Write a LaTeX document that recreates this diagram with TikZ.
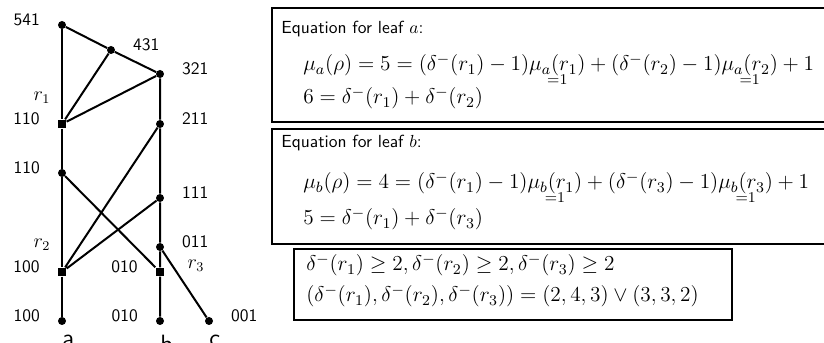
\documentclass[tikz,border=0pt]{standalone}
\usepackage{fix-cm}
\usepackage{amsmath,amssymb}
\usetikzlibrary{positioning}

\newcommand{\isone}[1]{\underset{=1}{\smash[b]{#1}}}

\begin{document}
\begin{tikzpicture}[
    x=0.6pt, y=-0.6pt,
    vert/.style={
        circle,
        fill=black,
        inner sep=0pt,
        minimum size=4.8pt
    },
    rootv/.style={
        rectangle,
        fill=black,
        inner sep=0pt,
        minimum size=5.2pt
    },
    lbl/.style={
        font=\fontsize{10.5}{12}\sffamily,
        inner sep=0pt,
        yshift=3.3pt
    },
    rlbl/.style={
        font=\fontsize{12}{14}\selectfont,
        inner sep=0pt
    },
    leafname/.style={
        font=\fontsize{15}{17}\sffamily,
        inner sep=0pt
    },
    link/.style={line width=1.2pt},
    eqbox/.style={
        draw=black,
        line width=1.3pt,
        anchor=north west,
        inner sep=0pt
    },
    eqtext/.style={anchor=base west, inner sep=0pt, font=\fontsize{10.5}{12}\sffamily},
    eqmath/.style={anchor=base west, inner sep=0pt, font=\fontsize{12.8}{15}\selectfont},
    label distance=10.5pt
]
    \useasboundingbox (0,0) rectangle (824,343);

    % -- Graph --
    \node[vert, label={[lbl]left:541}] (v541) at (62,25) {};
    \node[vert, label={[lbl]right:431}] (v431) at (111,50) {};
    \node[vert, label={[lbl]right:321}] (v321) at (160,74) {};
    \node[rootv, label={[lbl]left:110}] (r1) at (62,124) {};
    \node[vert, label={[lbl]right:211}] (v211) at (160,124) {};
    \node[vert, label={[lbl]left:110}] (v110) at (62,173) {};
    \node[vert, label={[lbl]right:111}] (v111) at (160,198) {};
    \node[vert, label={[lbl]right:011}] (v011) at (160,247) {};
    \node[rootv, label={[lbl]left:100}] (r2) at (62,272) {};
    \node[rootv, label={[lbl]left:010}] (r3) at (160,272) {};

    % leaves
    \node[vert, label={[lbl]left:100}] (la) at (62,321) {};
    \node[vert, label={[lbl]left:010}] (lb) at (160,321) {};
    \node[vert, label={[lbl]right:001}] (lc) at (209,321) {};

    % root names
    \node[rlbl, above left=9pt and 4pt of r1] {$r_1$};
    \node[rlbl, above left=10pt and 4pt of r2] {$r_2$};
    \node[rlbl, right=13.5pt of r3, yshift=3.5pt] {$r_3$};

    % leaf names
    \node[leafname, below right=8.4pt and 0pt of la.center] {a};
    \node[leafname, below right=8.4pt and 0pt of lb.center] {b};
    \node[leafname, below right=8.4pt and 0pt of lc.center] {c};

    % edges
    \draw[link] (v541) -- (r1) -- (v110) -- (r2) -- (la);
    \draw[link] (v541) -- (v431) -- (v321) -- (v211) -- (v111) -- (v011) -- (r3) -- (lb);
    \draw[link] (v431) -- (r1) -- (v321);
    \draw[link] (v211) -- (r2) -- (v111);
    \draw[link] (v110) -- (r3);
    \draw[link] (v011) -- (lc);

    % -- Equations --
    \node[eqbox, minimum width=333pt, minimum height=68.4pt] (boxa) at (271,7) {};
    \node[eqtext] (capa) at (281,34) {Equation for leaf $a$:};
    \node[eqmath] (mua) at (303,71) {$\mu_a(\rho) = 5 = (\delta^-(r_1)-1)\isone{\mu_a(r_1)} + (\delta^-(r_2)-1)\isone{\mu_a(r_2)} + 1$};
    \node[eqmath] (suma) at (303,104) {$6 = \delta^-(r_1) + \delta^-(r_2)$};

    \node[eqbox, minimum width=333pt, minimum height=69pt] (boxb) at (271,128) {};
    \node[eqtext] (capb) at (281,148) {Equation for leaf $b$:};
    \node[eqmath] (mub) at (303,189) {$\mu_b(\rho) = 4 = (\delta^-(r_1)-1)\isone{\mu_b(r_1)} + (\delta^-(r_3)-1)\isone{\mu_b(r_3)} + 1$};
    \node[eqmath] (sumb) at (303,225) {$5 = \delta^-(r_1) + \delta^-(r_3)$};

    \node[eqbox, minimum width=262.8pt, minimum height=42.6pt] (boxc) at (293,248) {};
    \node[eqmath] (bnd) at (306,271) {$\delta^-(r_1) \geq 2, \delta^-(r_2) \geq 2, \delta^-(r_3) \geq 2$};
    \node[eqmath] (sol) at (306,302) {$(\delta^-(r_1), \delta^-(r_2), \delta^-(r_3)) = (2,4,3) \vee (3,3,2)$};

\end{tikzpicture}
\end{document}
